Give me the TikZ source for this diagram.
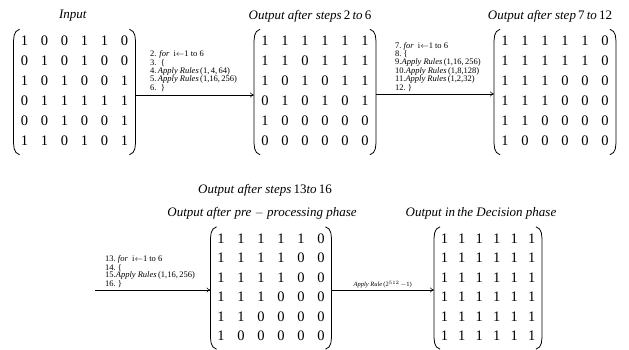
\documentclass[tikz,border=0pt]{standalone}
\usepackage{fontspec}
\setmainfont{Liberation Serif}
\usetikzlibrary{arrows.meta}
\newcommand\matsix[2]{\setlength{\tabcolsep}{#1}\begin{tabular}{@{}cccccc@{}}#2\end{tabular}}
\begin{document}
\begin{tikzpicture}[x=1pt,y=-1pt,
  title/.style={font=\fontsize{13}{15}\selectfont, inner sep=0},
  mat/.style={inner xsep=7pt, inner ysep=2.5pt, font=\fontsize{14.5}{20}\selectfont},
  matb/.style={inner xsep=6.5pt, inner ysep=2.5pt, font=\fontsize{14.5}{19.5}\selectfont},
  paren/.style={line width=0.8pt},
  code/.style={font=\fontsize{8.5}{7.5}\selectfont, align=left, inner sep=0, anchor=south west},
  arr/.style={-{To[length=4pt,width=5pt]}, line width=0.6pt}]
\useasboundingbox (0,0) rectangle (629,350);

% titles
\node[title] (t1) at (73,16) {\textit{Input}};
\node[title] (t2) at (310,16) {\textit{Output after steps}\,2\,\textit{to}\,6};
\node[title] (t3) at (550,16) {\textit{Output after step}\,7\,\textit{to}\,12};
\node[title] (t4) at (265,190) {\textit{Output after steps}\,13\textit{to}\,16};
\node[title] (t5) at (262,213) {\textit{Output after pre} $-$ \textit{processing phase}};
\node[title] (t6) at (481,213) {\textit{Output in\,the Decision phase}};

% matrices
\node[mat] (m1) at (74.5,92) {\matsix{6.4pt}{%
1&0&0&1&1&0\\0&1&0&1&0&0\\1&0&1&0&0&1\\0&1&1&1&1&1\\0&0&1&0&0&1\\1&1&0&1&0&1}};
\node[mat] (m2) at (315,92) {\matsix{6.4pt}{%
1&1&1&1&1&1\\1&1&0&1&1&1\\1&0&1&0&1&1\\0&1&0&1&0&1\\1&0&0&0&0&0\\0&0&0&0&0&0}};
\node[mat] (m3) at (555,92) {\matsix{6.4pt}{%
1&1&1&1&1&0\\1&1&1&1&1&0\\1&1&1&0&0&0\\1&1&1&0&0&0\\1&1&0&0&0&0\\1&0&0&0&0&0}};
\node[matb] (m4) at (271,288) {\matsix{6.4pt}{%
1&1&1&1&1&0\\1&1&1&1&0&0\\1&1&1&1&0&0\\1&1&1&0&0&0\\1&1&0&0&0&0\\1&0&0&0&0&0}};
\node[matb] (m5) at (488,288) {\matsix{5.1pt}{%
1&1&1&1&1&1\\1&1&1&1&1&1\\1&1&1&1&1&1\\1&1&1&1&1&1\\1&1&1&1&1&1\\1&1&1&1&1&1}};

% parentheses
\foreach \m in {m1,m2,m3,m4,m5}{
  \draw[paren] ([xshift=6pt]\m.north west) to[out=195,in=90] ([yshift=-16pt]\m.north west)
     -- ([yshift=16pt]\m.south west) to[out=-90,in=165] ([xshift=6pt]\m.south west);
  \draw[paren] ([xshift=-6pt]\m.north east) to[out=-15,in=90] ([yshift=-16pt]\m.north east)
     -- ([yshift=16pt]\m.south east) to[out=-90,in=15] ([xshift=-6pt]\m.south east);
}

% arrows
\draw[arr] ([yshift=-3pt]m1.east) -- ([yshift=-3pt]m2.west);
\draw[arr] ([yshift=-2pt]m2.east) -- ([yshift=-2pt]m3.west);
\coordinate (s3) at (95,290);
\draw[arr] (s3) -- (s3 -| m4.west);
\draw[arr] (m4.east |- s3) -- node[midway, above=1.5pt, inner sep=0, font=\fontsize{6.5}{6.5}\selectfont] (l4) {\textit{Apply Rule}\,(2$^{512}$\,$-$1)} (m5.west |- s3);

% code labels
\node[code] (c1) at (150,92) {2. \textit{for}\ \ i$\leftarrow$1 to 6\\3.\ \ \{\\4.\,\textit{Apply Rules}\,(1,\,4,\,64)\\5.\,\textit{Apply Rules}\,(1,16,\,256)\\6.\ \ \}};
\node[code] (c2) at (395,92) {7.\ \textit{for}\ \ i$\leftarrow$1 to 6\\8.\ \{\\9.\textit{Apply Rules}\,(1,16,\,256)\\10.\textit{Apply Rules}\,(1,8,128)\\11.\textit{Apply Rules}\,(1,2,32)\\12.\ \}};
\node[code] (c3) at (105,288) {13.\ \textit{for}\ \ i$\leftarrow$1 to 6\\14.\ \{\\15.\textit{Apply Rules}\,(1,16,\,256)\\16.\ \}};
\end{tikzpicture}
\end{document}
